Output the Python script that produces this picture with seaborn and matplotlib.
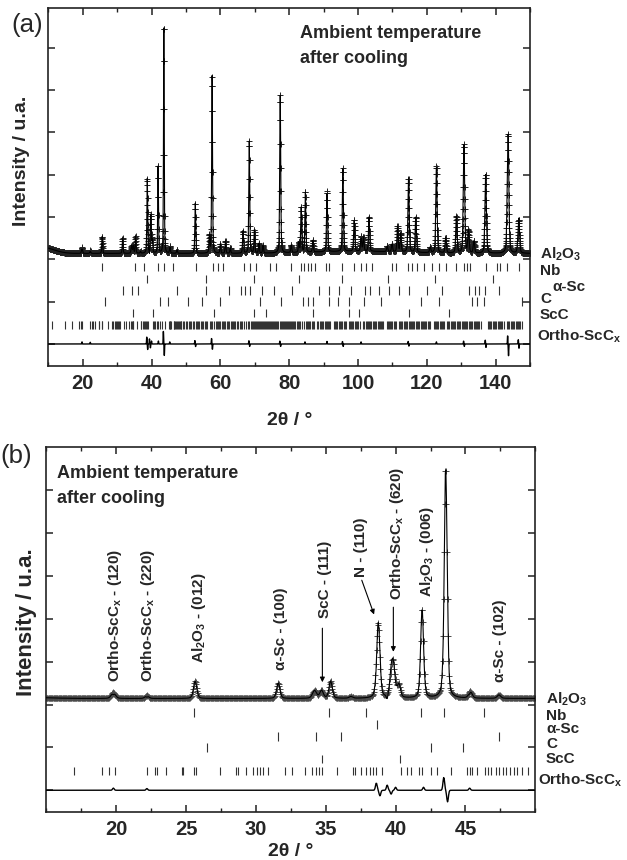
import numpy as np
import pandas as pd
import matplotlib
matplotlib.use("Agg")
import matplotlib.pyplot as plt
import seaborn as sns

# observed reflections: 2theta, height above background, FWHM
peak_pos = [19.8, 22.2, 25.65, 31.6, 34.2, 34.7, 35.35, 36.8, 38.75, 39.8, 40.25, 41.9, 43.58, 45.35, 47.4,
            52.7, 56.8, 57.6, 60.0, 61.5, 62.9, 66.6, 68.4, 69.9, 71.2, 72.4, 77.4, 80.6, 82.8, 83.5,
            84.7, 86.9, 91.0, 95.6, 98.9, 100.9, 101.6, 103.2, 108.5, 109.9, 111.5, 112.4, 114.7, 116.8,
            121.0, 122.8, 125.5, 128.6, 130.8, 132.1, 133.7, 137.1, 143.6, 146.7]
peak_height = [0.14, 0.07, 0.40, 0.36, 0.18, 0.18, 0.40, 0.04, 1.76, 0.90, 0.28, 2.10, 5.41, 0.16, 0.08,
               1.19, 0.40, 4.17, 0.22, 0.29, 0.13, 0.53, 2.65, 0.55, 0.23, 0.18, 3.72, 0.18, 0.23, 1.07,
               1.43, 0.28, 1.43, 1.96, 0.73, 0.35, 0.33, 0.81, 0.13, 0.18, 0.60, 0.43, 1.75, 0.83,
               0.13, 2.06, 0.36, 0.86, 2.56, 0.53, 0.28, 1.85, 2.82, 0.78]
peak_fwhm = [0.35, 0.30, 0.28, 0.28, 0.35, 0.30, 0.28, 0.30, 0.28, 0.38, 0.25, 0.25, 0.25, 0.30, 0.30,
             0.30, 0.30, 0.30, 0.30, 0.30, 0.30, 0.32, 0.32, 0.32, 0.32, 0.32, 0.34, 0.34, 0.34, 0.34,
             0.34, 0.34, 0.36, 0.36, 0.38, 0.38, 0.38, 0.38, 0.40, 0.40, 0.40, 0.40, 0.42, 0.42,
             0.44, 0.44, 0.46, 0.46, 0.48, 0.48, 0.48, 0.50, 0.55, 0.55]

# background: flat level plus broad humps (position, height, FWHM)
bkg_level = 2.14
bkg_pos = [8.0, 100.0]
bkg_height = [0.15, 0.05]
bkg_fwhm = [8.0, 30.0]

# obs - calc misfit features (position, amplitude)
diff_pos = [19.8, 22.2, 38.62, 38.88, 39.4, 39.68, 40.0, 42.0, 43.45, 43.72, 45.3, 52.6, 52.8,
            57.45, 57.7, 68.3, 68.5, 77.3, 77.5, 84.6, 91.0, 95.5, 95.7, 100.9, 114.6, 114.8, 122.8,
            130.7, 130.9, 137.0, 137.2, 143.5, 143.75, 146.6, 146.8]
diff_amp = [0.05, 0.04, 0.17, -0.13, 0.12, -0.09, 0.07, 0.07, 0.30, -0.27, 0.05, 0.08, -0.06,
            0.13, -0.13, 0.08, -0.06, 0.07, -0.06, 0.05, 0.06, 0.06, -0.06, 0.05, 0.06, -0.05, 0.05,
            0.07, -0.06, 0.09, -0.08, 0.20, -0.28, 0.10, -0.10]
diff_fwhm = 0.14

# Bragg reflection positions of each phase
al2o3_pos = [25.6, 35.2, 37.9, 41.8, 43.5, 46.3, 52.8, 57.8, 59.3, 60.7, 67.0, 68.5, 70.4, 74.3,
             76.2, 80.5, 83.4, 84.4, 85.4, 86.3, 87.6, 90.7, 91.7, 95.5, 98.9, 100.8, 102.3, 104.2,
             110.0, 111.0, 114.4, 115.8, 117.3, 119.2, 121.6, 123.5, 125.5, 128.4, 130.8, 131.8,
             132.7, 137.1, 140.4, 141.4, 143.3, 146.7]
nb_pos = [38.7, 55.7, 69.7, 82.8, 95.5, 108.6, 122.4, 139.2]
asc_pos = [31.6, 34.3, 36.1, 47.4, 55.9, 62.5, 66.0, 67.3, 68.7, 72.1, 75.7, 80.8, 88.8, 91.7,
           94.6, 97.9, 102.1, 103.5, 106.1, 109.0, 111.9, 114.8, 120.2, 124.3, 132.4, 134.0,
           135.1, 136.9, 140.9]
c_pos = [26.5, 42.5, 44.8, 50.6, 54.7, 59.8, 71.4, 77.6, 83.9, 85.4, 87.0, 91.7, 94.1, 97.5,
         101.8, 106.6, 118.2, 123.5, 133.2, 134.7, 136.6, 147.7]
scc_pos = [34.7, 40.3, 58.1, 69.9, 73.3, 86.8, 97.3, 100.4, 114.8, 126.4]
ortho_pos = [11.2, 14.8, 17.0, 19.0, 19.5, 19.9, 22.2, 22.8, 22.9, 23.6, 24.7, 24.8, 25.6, 25.7,
             27.4, 28.6, 28.7, 29.3, 29.8, 30.1, 30.3, 30.5, 30.9, 32.1, 32.6, 33.5, 34.0, 34.3,
             34.5, 34.7, 35.8, 36.95, 37.07, 37.5, 37.86, 38.14, 38.36, 38.6, 39.05, 40.4, 40.8,
             41.1, 41.7, 41.9, 42.5, 42.98, 43.98, 45.1, 45.3, 45.5, 45.8, 46.4, 46.6, 46.8, 47.2,
             47.4, 47.7, 47.9, 48.2, 48.5, 48.7, 49.05, 49.5,
             50.1, 50.4, 50.8, 51.1, 51.6, 52.0, 52.3, 52.9, 53.2, 53.6, 53.9, 54.3, 54.8, 55.1,
             55.5, 55.8, 56.1, 56.9, 57.2, 57.5, 58.3, 58.6, 59.0, 59.3, 59.7, 60.0, 60.4, 60.8,
             61.1, 61.4, 61.8, 62.1, 62.4, 63.0, 63.3, 63.7, 64.0, 64.3, 64.9, 65.2, 65.6, 65.9,
             66.2, 66.8, 67.4, 67.9, 68.3, 68.8, 69.1, 69.4, 69.7, 70.0, 70.3, 70.6, 70.9, 71.2,
             71.5, 71.8, 72.1, 72.4, 72.7, 73.0, 73.3, 73.6, 73.9, 74.2, 74.5, 74.8, 75.1, 75.4,
             75.7, 76.0, 76.3, 76.6, 76.9, 77.2, 77.5, 77.8, 78.1, 78.4, 78.7, 79.0, 79.3, 79.6,
             79.9, 80.2, 80.5, 80.8, 81.1, 81.5, 81.8, 82.2, 82.5, 82.9, 83.2, 83.6, 84.4, 84.8,
             85.1, 85.5, 85.8, 86.2, 86.6, 86.9, 87.3, 88.2, 88.5, 88.9, 89.2, 89.6, 89.9, 90.3,
             90.6, 91.0, 91.3, 91.7, 92.0, 93.0, 93.3, 93.7, 94.0, 94.4, 94.7, 95.1, 95.4, 95.8,
             96.1, 96.5, 97.3, 97.7, 98.0, 98.4, 98.7, 99.1, 99.4, 99.8, 100.1, 100.5, 101.5,
             101.8, 102.2, 102.5, 102.9, 103.2, 103.6, 103.9, 104.3, 104.6, 105.0, 105.3, 105.7,
             106.0, 106.4, 106.7, 107.1, 107.4, 108.3, 108.6, 109.0, 109.3, 109.7, 110.0, 110.4,
             110.7, 111.1, 111.9, 112.2, 112.6, 112.9, 113.3, 113.6, 114.0, 114.3, 114.7, 115.0,
             115.4, 115.7, 116.1, 116.4, 116.8, 117.1, 117.5, 117.8, 118.2, 118.5, 118.9, 119.2,
             119.6, 119.9, 120.3, 120.6, 121.0, 122.0, 122.3, 122.7, 123.0, 123.4, 123.7, 124.1,
             124.4, 124.8, 125.1, 125.9, 126.2, 126.6, 126.9, 127.3, 127.6, 128.0, 128.3, 128.7,
             129.0, 129.4, 129.7, 130.1, 130.4, 130.8, 131.1, 131.5, 131.8, 132.2, 132.5, 132.9,
             133.2, 133.6, 133.9, 134.3, 134.6, 135.0, 135.3, 135.7, 137.8, 138.1, 138.5, 138.8,
             139.2, 139.5, 139.9, 140.2, 140.6, 140.9, 141.3, 141.6, 142.0, 142.4, 143.3, 143.7,
             144.0, 144.4, 144.7, 145.1, 145.4, 145.8, 146.1, 146.5, 146.8, 147.2, 147.6]

phase_names = ["Al$_2$O$_3$", "Nb", "α-Sc", "C", "ScC", "Ortho-ScC$_x$"]
phase_refl = [al2o3_pos, nb_pos, asc_pos, c_pos, scc_pos, ortho_pos]
phase_row = [1.82, 1.54, 1.26, 1.0, 0.73, 0.45]


def pv(x, pos, height, fwhm, eta=0.35):
    out = np.zeros_like(x)
    for p, h, w in zip(pos, height, np.broadcast_to(fwhm, len(pos))):
        d = (x - p) / (w / 2)
        out += h * ((1 - eta) * np.exp(-np.log(2) * d ** 2) + eta / (1 + d ** 2))
    return out


def pattern(x):
    bkg = bkg_level + pv(x, bkg_pos, bkg_height, bkg_fwhm, eta=0)
    obs = bkg + pv(x, peak_pos, peak_height, peak_fwhm)
    diff = pv(x, diff_pos, diff_amp, diff_fwhm, eta=0)
    return pd.DataFrame({"tth": x, "obs": obs, "calc": obs - diff, "diff": diff})


sns.set_theme(style="ticks")
plt.rcParams["font.family"] = ["Liberation Sans", "DejaVu Sans"]
plt.rcParams["font.weight"] = "bold"
plt.rcParams["mathtext.fontset"] = "custom"
plt.rcParams["mathtext.rm"] = "Liberation Sans:bold"
plt.rcParams["mathtext.it"] = "Liberation Sans:bold"
plt.rcParams["mathtext.bf"] = "Liberation Sans:bold"

W, H = 627, 860
fig = plt.figure(figsize=(W / 100, H / 100), dpi=100)


def fx(px):
    return px / W


def fy(py):
    return 1 - py / H


def draw_panel(ax, df, xlim, ylim, major, minor, msize, mcolor):
    sns.scatterplot(data=df, x="tth", y="obs", marker="+", s=msize, color=mcolor,
                    linewidth=0.7, ax=ax, legend=False, zorder=2)
    sns.lineplot(data=df, x="tth", y="calc", color="black", lw=0.8, ax=ax, zorder=3)
    sns.lineplot(data=df, x="tth", y="diff", color="black", lw=1.0, ax=ax, zorder=3)
    for refl, row in zip(phase_refl, phase_row):
        ax.vlines(refl, row - 0.1, row + 0.1, color="#333333", lw=0.8)
    ax.set_xlim(*xlim)
    ax.set_ylim(*ylim)
    ax.set_xticks(np.arange(major[0], major[1] + 0.01, major[2]))
    ax.set_xticks(np.arange(minor[0], minor[1] + 0.01, minor[2]), minor=True)
    ax.set_yticks(range(0, 8))
    ax.set_yticklabels([])
    ax.set_xlabel("")
    ax.set_ylabel("")
    ax.tick_params(which="both", direction="in", top=True, right=True, color="#222222",
                   labelsize=14.5, pad=6)
    ax.tick_params(which="major", length=5, width=1.1)
    ax.tick_params(which="minor", length=3, width=1.0)
    for s in ax.spines.values():
        s.set_linewidth(1.2)
        s.set_color("#222222")


# ---- panel (a)
ax1 = fig.add_axes([fx(48.3), fy(366), fx(530 - 48.3), (366 - 8) / H])
draw_panel(ax1, pattern(np.arange(10, 150, 0.04)), (10, 150), (-0.52, 7.94),
           (20, 140, 20), (10, 150, 10), 20, "#222222")

# ---- panel (b)
ax2 = fig.add_axes([fx(46.3), fy(811.7), fx(535.3 - 46.3), (811.7 - 447.3) / H])
draw_panel(ax2, pattern(np.arange(15, 50, 0.04)), (15, 50), (-0.5, 8.0),
           (20, 45, 5), (15, 50, 2.5), 20, "#4a4a4a")

# panel letters, titles, axis labels
fig.text(fx(11), fy(32), "(a)", fontsize=18.5, fontweight="normal", va="baseline")
fig.text(fx(0), fy(463), "(b)", fontsize=18.5, fontweight="normal", va="baseline")
fig.text(fx(300), fy(38), "Ambient temperature", fontsize=13, va="baseline")
fig.text(fx(300), fy(63), "after cooling", fontsize=13, va="baseline")
fig.text(fx(57), fy(478), "Ambient temperature", fontsize=13, va="baseline")
fig.text(fx(57), fy(503), "after cooling", fontsize=13, va="baseline")
fig.text(fx(21.5), fy(161), "Intensity / u.a.", fontsize=14, rotation=90, ha="center", va="center")
fig.text(fx(26.5), fy(622), "Intensity / u.a.", fontsize=16, rotation=90, ha="center", va="center")
fig.text(fx(290), fy(425), "2θ / °", fontsize=14, ha="center", va="baseline")
fig.text(fx(291), fy(856), "2θ / °", fontsize=14, ha="center", va="baseline")

# phase labels on the right
label_a = [(540, 259), (540, 275), (552, 291), (540, 303), (540, 319), (537, 341)]
label_b = [(546, 704), (546, 720), (546, 733), (546, 748), (546, 763), (538, 785)]
for name, (xa, ya), (xb, yb) in zip(phase_names, label_a, label_b):
    fig.text(fx(xa), fy(ya), name, fontsize=11, va="baseline")
    fig.text(fx(xb), fy(yb), name, fontsize=11, va="baseline")

# peak annotations in panel (b)
ann_text = ["Ortho-ScC$_x$ - (120)", "Ortho-ScC$_x$ - (220)", "Al$_2$O$_3$ - (012)",
            "α-Sc - (100)", "ScC - (111)", "N - (110)", "Ortho-ScC$_x$ - (620)",
            "Al$_2$O$_3$ - (006)", "α-Sc - (102)"]
ann_x = [19.9, 22.3, 25.95, 31.8, 34.95, 37.55, 40.1, 42.25, 47.45]
ann_y = [2.52, 2.52, 2.96, 2.80, 4.01, 4.97, 4.43, 4.51, 2.53]
for t, x, y in zip(ann_text, ann_x, ann_y):
    ax2.text(x, y, t, rotation=90, ha="center", va="bottom", fontsize=11)

arrow_kw = dict(arrowstyle="-|>", color="black", lw=0.8, mutation_scale=7,
                shrinkA=0, shrinkB=0)
ax2.annotate("", xy=(34.76, 2.52), xytext=(34.76, 3.78), arrowprops=arrow_kw)
ax2.annotate("", xy=(38.46, 4.10), xytext=(37.58, 4.90), arrowprops=arrow_kw)
ax2.annotate("", xy=(39.84, 3.23), xytext=(39.84, 4.27), arrowprops=arrow_kw)

fig.savefig("out.png", dpi=100)
